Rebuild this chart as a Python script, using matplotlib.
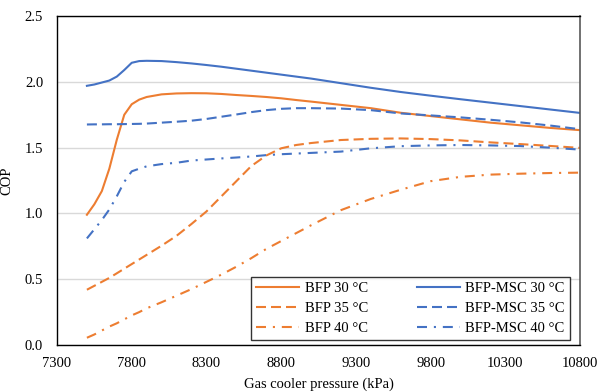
import matplotlib
matplotlib.use("Agg")
import matplotlib.pyplot as plt

# gas cooler pressure (kPa)
pressure = [7500, 7550, 7600, 7650, 7700, 7750, 7800, 7850, 7900, 8000,
            8100, 8200, 8300, 8400, 8500, 8600, 8700, 8800, 8900, 9000,
            9200, 9400, 9600, 9800, 10000, 10200, 10400, 10600, 10800]

bfp_30 = [0.99, 1.07, 1.17, 1.34, 1.56, 1.75, 1.83, 1.865, 1.885, 1.905,
          1.912, 1.914, 1.913, 1.908, 1.90, 1.893, 1.885, 1.875, 1.862, 1.85,
          1.825, 1.80, 1.765, 1.74, 1.715, 1.69, 1.67, 1.65, 1.633]
bfp_35 = [0.42, 0.45, 0.48, 0.51, 0.545, 0.58, 0.615, 0.65, 0.685, 0.755,
          0.83, 0.92, 1.015, 1.13, 1.245, 1.36, 1.44, 1.495, 1.52, 1.535,
          1.558, 1.567, 1.57, 1.565, 1.555, 1.54, 1.527, 1.513, 1.498]
bfp_40 = [0.055, 0.08, 0.11, 0.14, 0.165, 0.195, 0.225, 0.25, 0.279, 0.325,
          0.375, 0.425, 0.48, 0.535, 0.595, 0.66, 0.73, 0.79, 0.85, 0.91,
          1.025, 1.11, 1.18, 1.245, 1.278, 1.295, 1.302, 1.307, 1.31]
msc_30 = [1.97, 1.98, 1.995, 2.01, 2.04, 2.09, 2.145, 2.158, 2.16, 2.158,
          2.15, 2.14, 2.128, 2.115, 2.10, 2.085, 2.07, 2.055, 2.04, 2.025,
          1.99, 1.955, 1.923, 1.895, 1.868, 1.842, 1.816, 1.79, 1.764]
msc_35 = [1.676, 1.677, 1.677, 1.678, 1.678, 1.679, 1.68, 1.681, 1.683, 1.69,
          1.697, 1.705, 1.718, 1.735, 1.752, 1.77, 1.785, 1.795, 1.80, 1.80,
          1.797, 1.785, 1.76, 1.745, 1.73, 1.712, 1.692, 1.668, 1.64]
msc_40 = [0.81, 0.88, 0.95, 1.03, 1.13, 1.24, 1.32, 1.34, 1.358, 1.375,
          1.385, 1.402, 1.41, 1.418, 1.425, 1.433, 1.443, 1.45, 1.455, 1.46,
          1.47, 1.495, 1.511, 1.517, 1.52, 1.517, 1.512, 1.50, 1.485]

x_ticks = [7300, 7800, 8300, 8800, 9300, 9800, 10300, 10800]
y_ticks = [0.0, 0.5, 1.0, 1.5, 2.0, 2.5]

orange = "#ED7D31"
blue = "#4472C4"
dashed = (0, (4.8, 2.4))
dashdot = (0, (4.8, 3.3, 1.0, 3.3))

plt.rcParams["font.family"] = ["Liberation Serif", "DejaVu Serif"]

fig = plt.figure(figsize=(5.99, 3.92), dpi=100)
ax = fig.add_axes([0.0952, 0.1199, 0.8731, 0.8391])

# order gives BFP in the first legend column, BFP-MSC in the second
series = [
    (bfp_30, orange, "-", "BFP 30 °C"),
    (bfp_35, orange, dashed, "BFP 35 °C"),
    (bfp_40, orange, dashdot, "BFP 40 °C"),
    (msc_30, blue, "-", "BFP-MSC 30 °C"),
    (msc_35, blue, dashed, "BFP-MSC 35 °C"),
    (msc_40, blue, dashdot, "BFP-MSC 40 °C"),
]
for vals, col, ls, lab in series:
    ax.plot(pressure, vals, color=col, linestyle=ls, linewidth=1.5, label=lab)

ax.set_xlim(7300, 10800)
ax.set_ylim(0, 2.5)
ax.set_xticks(x_ticks)
ax.set_yticks(y_ticks)
ax.set_yticklabels([f"{v:.1f}" for v in y_ticks])
ax.tick_params(length=0, labelsize=10.5)
ax.tick_params(axis="x", pad=9)
ax.tick_params(axis="y", pad=10)
ax.yaxis.grid(True, color="#d9d9d9", linewidth=1)
ax.set_axisbelow(True)
for side in ["left", "bottom", "top"]:
    ax.spines[side].set_color("black")
    ax.spines[side].set_linewidth(1)
ax.spines["right"].set_color("#595959")
ax.spines["right"].set_linewidth(1.2)

ax.set_xlabel("Gas cooler pressure (kPa)", fontsize=10.5, labelpad=5)
ax.set_ylabel("COP", fontsize=10.5, labelpad=8)

leg = ax.legend(ncol=2, loc="lower right", bbox_to_anchor=(0.981, 0.015),
                fontsize=10.5, frameon=True, fancybox=False, handlelength=2.9,
                handletextpad=0.4, columnspacing=3.4, labelspacing=0.45,
                borderpad=0.35, borderaxespad=0)
leg.get_frame().set_edgecolor("black")
leg.get_frame().set_linewidth(1)

fig.savefig("out.png", dpi=100)
